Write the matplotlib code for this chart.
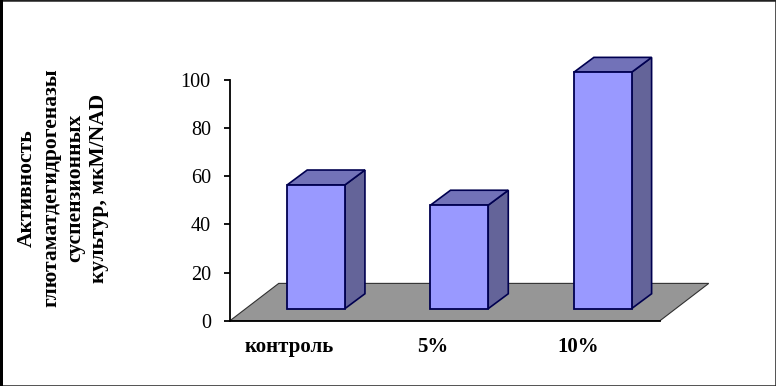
import numpy as np
import matplotlib
matplotlib.use('Agg')
import matplotlib.pyplot as plt
from matplotlib.patches import Rectangle

plt.rcParams['font.family'] = ['Liberation Serif', 'DejaVu Serif']

categories = ['контроль', '5%', '10%']
values = [51.4, 43, 98.2]
y_ticks = [0, 20, 40, 60, 80, 100]
y_title = 'Активность\nглютаматдегидрогеназы\nсуспензионных\nкультур, мкМ/NAD'

# fake 3d offsets, in data units
dx, dy = 0.14, 6.2
bar_w = 0.403
base = 5
floor_depth_x = 0.34
floor_depth_y = 15.5

EDGE = '#000050'

fig = plt.figure(figsize=(7.76, 3.86), dpi=100)
ax = fig.add_axes([230 / 776, 1 - 320.7 / 386, 430 / 776, 240.7 / 386])
ax.set_xlim(-0.6, 2.4)
ax.set_ylim(0, 100)
ax.patch.set_visible(False)

# floor
ax.fill([-0.6, 2.4, 2.4 + floor_depth_x, -0.6 + floor_depth_x],
        [0, 0, floor_depth_y, floor_depth_y],
        facecolor='#969696', edgecolor='#303030', lw=0.8, clip_on=False, zorder=1)

# bars
x = np.arange(len(values))
for xi, v in zip(x, values):
    l, r = xi - bar_w / 2, xi + bar_w / 2
    t = base + v
    ax.fill([r, r + dx, r + dx, r], [base, base + dy, t + dy, t],
            facecolor='#646499', edgecolor=EDGE, lw=1.2, clip_on=False, zorder=3)
    ax.fill([l, l + dx, r + dx, r], [t, t + dy, t + dy, t],
            facecolor='#7272B8', edgecolor=EDGE, lw=1.2, clip_on=False, zorder=3)
ax.bar(x, values, bar_w, bottom=base, color='#9999FF', edgecolor=EDGE, lw=1.3,
       clip_on=False, zorder=4)

for s in ['top', 'right']:
    ax.spines[s].set_visible(False)
ax.spines['left'].set_linewidth(1.3)
ax.spines['bottom'].set_linewidth(1.3)
ax.spines['left'].set_zorder(5)
ax.spines['bottom'].set_zorder(5)

ax.set_yticks(y_ticks)
ax.tick_params(axis='y', length=4.3, width=1.3, labelsize=14.5, pad=9.5)
# labels sit left of the bars, the last one a bit less so
ax.set_xticks(x - np.array([0.185, 0.185, 0.168]), categories, fontweight='bold', fontsize=15)
ax.tick_params(axis='x', length=0, pad=11.5)

fig.text(63 / 776, 1 - 188 / 386, y_title, rotation=90, ha='center', va='center',
         multialignment='center', fontweight='bold', fontsize=15.5, linespacing=1.26)

# picture frame, left side is heavier
fig.add_artist(Rectangle((0, 0), 1, 1, transform=fig.transFigure, fill=False,
                         edgecolor='#202020', lw=1.8))
fig.add_artist(Rectangle((0, 0), 3 / 776, 1, transform=fig.transFigure,
                         facecolor='black', edgecolor='none'))

fig.savefig('out.png', dpi=100)
